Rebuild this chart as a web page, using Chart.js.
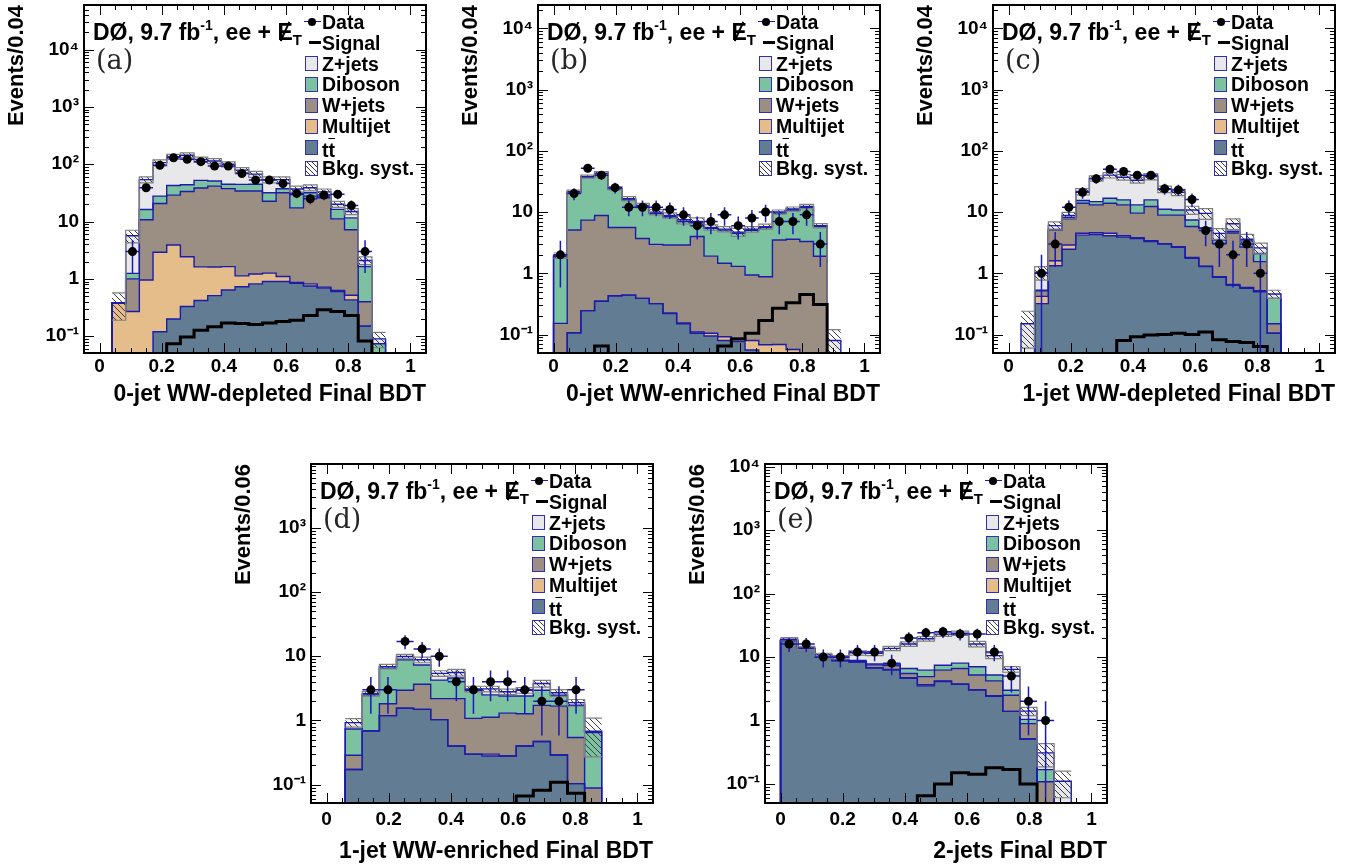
<!DOCTYPE html>
<html lang="en">
<head>
<meta charset="utf-8">
<title>DØ ee + MET final BDT distributions</title>
<script src="https://cdn.jsdelivr.net/npm/chart.js@4.4.1/dist/chart.umd.min.js"></script>
<style>
  html, body { margin: 0; padding: 0; background: #fff; }
  body { position: relative; width: 1369px; height: 867px; overflow: hidden;
         font-family: "Liberation Sans", Arial, Helvetica, sans-serif; color: #000; }
  .panel { position: absolute; }
  .panel canvas { position: absolute; left: 0; top: 0; }
  .note { position: absolute; font-weight: bold; font-size: 23px; line-height: 26px; white-space: nowrap; }
  .note .up { font-size: 14px; position: relative; top: -10px; }
  .note .dn { font-size: 15px; position: relative; top: 5px; }
  .met { position: relative; }
  .met i { position: absolute; left: 7px; top: 2px; width: 2px; height: 21px; background: #000; transform: rotate(24deg); }
  .tag { position: absolute; font-family: "DejaVu Serif", "Liberation Serif", serif; font-size: 27px; line-height: 30px; color: #262626; }
  .leg { position: absolute; font-weight: bold; font-size: 19.5px; line-height: 22px; white-space: nowrap; }
  .sw { position: absolute; width: 13px; height: 15px; box-sizing: border-box; border: 1px solid #3030b0; }
  .mk { position: absolute; }
  .ov { text-decoration: overline; }
</style>
</head>
<body>
<div class="panel" id="pa"><canvas id="ca"></canvas></div>
<div class="panel" id="pb"><canvas id="cb"></canvas></div>
<div class="panel" id="pc"><canvas id="cc"></canvas></div>
<div class="panel" id="pd"><canvas id="cd"></canvas></div>
<div class="panel" id="pe"><canvas id="ce"></canvas></div>
<script>
// axis ticks and legend
const xTickValues = [0, 0.2, 0.4, 0.6, 0.8, 1];
const xTickLabels = ['0', '0.2', '0.4', '0.6', '0.8', '1'];
const yTickValues = [0.1, 1, 10, 100, 1000, 10000];
const yTickLabels = ['10⁻¹', '1', '10', '10²', '10³', '10⁴'];
const legendLabels = ['Data', 'Signal', 'Z+jets', 'Diboson', 'W+jets', 'Multijet', 'tt̄', 'Bkg. syst.'];

// (a) 0-jet WW-depleted, bins from 0.04
const aBinStart = 0.04, aBinWidth = 0.044;
const aTT   = [0, 0, 0, 0.12, 0.20, 0.33, 0.42, 0.51, 0.64, 0.73, 0.82, 0.90, 0.90, 0.84, 0.75, 0.69, 0.60, 0.43, 0.15, 0];
const aMJ   = [0.38, 0.27, 0.96, 2.8, 3.7, 2.1, 1.2, 1.1, 1.0, 0.4, 0.4, 0.36, 0.2, 0.03, 0.07, 0.03, 0.03, 0.09, 0, 0];
const aW    = [0, 0.73, 9.8, 17.7, 25, 31, 37, 40, 36, 33, 33, 21.4, 30.7, 16.5, 27, 25.3, 10.5, 6.7, 0.25, 0];
const aDib  = [0, 0.25, 5.5, 7.2, 13.7, 10.5, 13.8, 9.3, 7.1, 10.5, 10.5, 9.1, 5.6, 12.3, 4.0, 1.8, 5.2, 4.4, 1.25, 0.074];
const aZ    = [0, 4.4, 37.7, 79, 93, 100, 69, 63, 55, 34.5, 22.5, 22.2, 16.6, 7.3, 7.2, 5.2, 3.7, 3.4, 0.45, 0.016];
const aSig  = [0, 0, 0, 0, 0.074, 0.097, 0.127, 0.146, 0.171, 0.167, 0.16, 0.17, 0.18, 0.19, 0.23, 0.29, 0.27, 0.23, 0.083, 0];
const aData = [0, 3, 39, 96, 130, 122, 111, 93, 93, 69, 53, 53, 46, 31, 25, 29, 30, 19, 3, 0];
const aSyst = [0.5, 0.25, 0.12, 0.12, 0.1, 0.1, 0.1, 0.1, 0.1, 0.1, 0.12, 0.12, 0.12, 0.12, 0.12, 0.12, 0.12, 0.12, 0.15, 0.3];

// (b) 0-jet WW-enriched, bins from 0
const bBinStart = 0, bBinWidth = 0.044;
const bTT   = [0, 0.107, 0.246, 0.35, 0.43, 0.44, 0.39, 0.32, 0.22, 0.15, 0.105, 0.095, 0.08, 0.077, 0.056, 0.045, 0.03, 0.02, 0.01, 0, 0];
const bMJ   = [0, 0, 0, 0, 0, 0, 0, 0, 0.005, 0.005, 0.005, 0.01, 0.012, 0.01, 0.024, 0.023, 0.039, 0.037, 0.01, 0, 0];
const bW    = [0.152, 5.0, 7.15, 8.45, 5.17, 5.16, 3.31, 2.65, 2.67, 2.75, 3.89, 1.8, 1.37, 1.21, 0.86, 0.81, 3.43, 3.54, 3.28, 1.9, 0];
const bDib  = [1.72, 15.7, 29.6, 33.2, 18, 10.2, 8.6, 6.5, 5.5, 4.1, 2.7, 3.5, 3.6, 3.2, 4.1, 4.7, 6.1, 7.2, 8.7, 3.9, 0];
const bZ    = [0.08, 0.7, 1.0, 1.0, 0.9, 0.7, 0.5, 0.5, 0.4, 0.5, 0.3, 0.2, 0.2, 0.2, 0.2, 0.2, 0.4, 0.4, 0.4, 0.2, 0.08];
const bSig  = [0, 0, 0, 0.065, 0, 0, 0, 0, 0, 0, 0, 0, 0.065, 0.085, 0.105, 0.17, 0.27, 0.33, 0.45, 0.31, 0];
const bData = [2, 20, 52, 40, 25, 12, 12, 12, 11, 9, 6, 7, 9, 6, 8, 10, 7, 7, 9, 3, 0];
const bSyst = [0.1, 0.06, 0.06, 0.06, 0.06, 0.08, 0.08, 0.1, 0.1, 0.15, 0.15, 0.1, 0.1, 0.15, 0.1, 0.1, 0.08, 0.08, 0.08, 0.08, 0.5];

// (c) 1-jet WW-depleted, bins from 0.04
const cBinStart = 0.04, cBinWidth = 0.044;
const cTT   = [0, 0.32, 1.33, 2.47, 4.2, 4.3, 4.1, 3.9, 3.7, 3.3, 3.0, 2.66, 1.76, 1.29, 0.86, 0.64, 0.57, 0.5, 0.105];
const cMJ   = [0, 0.1, 0.27, 0.43, 0.3, 0.3, 0.4, 0.2, 0.1, 0.1, 0.05, 0.05, 0.05, 0.02, 0.02, 0.02, 0.02, 0.02, 0];
const cW    = [0, 0.1, 3.5, 4.8, 9.4, 8.5, 9.4, 9.0, 5.8, 8.9, 5.85, 6.2, 4.0, 4.1, 2.2, 3.9, 2.1, 1.03, 0.045];
const cDib  = [0, 0.01, 0.1, 0.5, 1.5, 1.7, 2.9, 2.7, 3.5, 3.5, 2.2, 1.9, 1.6, 0.1, 0.4, 0.3, 0.7, 0.55, 0.24];
const cZ    = [0.15, 0.5, 0.8, 0.6, 6.2, 20.8, 23.2, 21.2, 19.9, 22.2, 12.5, 10.2, 3.4, 4.0, 1.0, 1.6, 0.2, 0.5, 0.07];
const cSig  = [0, 0, 0, 0, 0, 0, 0, 0.08, 0.092, 0.098, 0.1, 0.105, 0.1, 0.11, 0.082, 0.077, 0.074, 0.064, 0];
const cData = [0, 1, 3, 12, 21, 35, 50, 46, 40, 40, 24, 23, 16, 5, 3, 2, 3, 1, 0];
const cSyst = [0.6, 0.25, 0.15, 0.12, 0.12, 0.1, 0.1, 0.1, 0.1, 0.12, 0.12, 0.12, 0.15, 0.2, 0.2, 0.2, 0.2, 0.2, 0.15];

// (d) 1-jet WW-enriched, bins from 0.06
const dBinStart = 0.06, dBinWidth = 0.055;
const dTT   = [0.173, 0.69, 1.19, 1.56, 1.49, 1.03, 0.40, 0.30, 0.28, 0.28, 0.40, 0.47, 0.29, 0.104, 0];
const dMJ   = [0, 0, 0, 0, 0, 0, 0, 0, 0.02, 0, 0, 0, 0, 0, 0];
const dW    = [0.114, 0, 0.63, 1.39, 2.18, 1.16, 1.79, 0.78, 0.82, 1.02, 0.87, 1.25, 1.38, 0.44, 0.089];
const dDib  = [0.45, 1.81, 4.68, 5.85, 3.63, 2.06, 2.4, 1.87, 1.38, 1.1, 1.13, 1.23, 0.8, 1.18, 0.56];
const dZ    = [0.19, 0.1, 0.4, 1.1, 1.5, 1.15, 1.0, 0.15, 0.6, 0.4, 0.55, 0.81, 0.23, 0.17, 0.03];
const dSig  = [0, 0, 0, 0, 0, 0, 0, 0, 0, 0.045, 0.067, 0.082, 0.109, 0.074, 0];
const dData = [0, 3, 3, 17, 13, 10, 4, 3, 4, 4, 3, 2, 2, 3, 0];
const dSyst = [0.15, 0.08, 0.08, 0.08, 0.1, 0.1, 0.12, 0.1, 0.1, 0.1, 0.1, 0.12, 0.12, 0.12, 0.6];

// (e) 2-jets, bins from 0
const eBinStart = 0, eBinWidth = 0.055;
const eTT   = [18, 13.4, 9.9, 8.8, 8.3, 6.7, 6.2, 4.6, 3.5, 4.1, 3.7, 3.0, 2.4, 1.39, 0.51, 0, 0];
const eMJ   = [0, 0, 0, 0, 0.1, 0.1, 0.15, 0.1, 0.15, 0.1, 0.05, 0.05, 0.05, 0, 0, 0, 0];
const eW    = [0, 0, 0, 0, 0.2, 0.7, 1.0, 0.8, 1.25, 2.0, 2.85, 2.15, 1.75, 1.1, 0.38, 0.108, 0];
const eDib  = [0.2, 0.2, 0.15, 0.2, 0.2, 0.3, 0.4, 1.1, 1.3, 1.2, 1.4, 1.8, 1.0, 0.5, 0.15, 0.06, 0];
const eZ    = [0.8, 0.3, 0.75, 0.9, 2.8, 3.6, 5.9, 9.4, 13.2, 15.5, 15.7, 9.0, 5.3, 3.4, 0.36, 0.14, 0.11];
const eSig  = [0, 0, 0, 0, 0, 0, 0, 0, 0.065, 0.1, 0.15, 0.142, 0.18, 0.168, 0.1, 0, 0];
const eData = [16, 16, 10, 10, 12, 12, 8, 20, 24, 25, 23, 23, 12, 5, 2, 1, 0];
const eSyst = [0.06, 0.06, 0.06, 0.06, 0.08, 0.08, 0.08, 0.08, 0.08, 0.08, 0.08, 0.1, 0.1, 0.1, 0.15, 0.4, 0.45];

const FONT = "'Liberation Sans', Arial, Helvetica, sans-serif";
const FLOOR = 1e-4;   // stands in for empty bins on the log axis
const COL = { tt: '#627c94', mj: '#e4bd8b', w: '#9b8e82', dib: '#7dc2a0', z: '#e8e8ea',
              edge: '#1c1ca8', err: '#1a1ab8', syst: '#808080' };
const FRAME_W = 342, Y_AXIS_W = 84, CANVAS_W = 436;

const panels = [
  { key: 'a', tag: '(a)', x: 0,   y: 0,   h: 411, padTop: 5,  frameH: 348, yMin: 0.051, yMax: 6e4,
    tickPad: 2, titlePad: 3, yTitle: 'Events/0.04', xTitle: '0-jet WW-depleted Final BDT',
    binStart: aBinStart, binWidth: aBinWidth, tt: aTT, mj: aMJ, w: aW, dib: aDib, z: aZ, sig: aSig, data: aData, syst: aSyst },
  { key: 'b', tag: '(b)', x: 454, y: 0,   h: 411, padTop: 5,  frameH: 348, yMin: 0.05, yMax: 2.4e4,
    tickPad: 2, titlePad: 3, yTitle: 'Events/0.04', xTitle: '0-jet WW-enriched Final BDT',
    binStart: bBinStart, binWidth: bBinWidth, tt: bTT, mj: bMJ, w: bW, dib: bDib, z: bZ, sig: bSig, data: bData, syst: bSyst },
  { key: 'c', tag: '(c)', x: 909, y: 0,   h: 411, padTop: 5,  frameH: 348, yMin: 0.05, yMax: 2.4e4,
    tickPad: 2, titlePad: 3, yTitle: 'Events/0.04', xTitle: '1-jet WW-depleted Final BDT',
    binStart: cBinStart, binWidth: cBinWidth, tt: cTT, mj: cMJ, w: cW, dib: cDib, z: cZ, sig: cSig, data: cData, syst: cSyst },
  { key: 'd', tag: '(d)', x: 227, y: 452, h: 415, padTop: 12, frameH: 339, yMin: 0.052, yMax: 9800,
    tickPad: 5, titlePad: 2, yTitle: 'Events/0.06', xTitle: '1-jet WW-enriched Final BDT',
    binStart: dBinStart, binWidth: dBinWidth, tt: dTT, mj: dMJ, w: dW, dib: dDib, z: dZ, sig: dSig, data: dData, syst: dSyst },
  { key: 'e', tag: '(e)', x: 681, y: 452, h: 415, padTop: 12, frameH: 339, yMin: 0.05, yMax: 1.1e4,
    tickPad: 5, titlePad: 2, yTitle: 'Events/0.06', xTitle: '2-jets Final BDT',
    binStart: eBinStart, binWidth: eBinWidth, tt: eTT, mj: eMJ, w: eW, dib: eDib, z: eZ, sig: eSig, data: eData, syst: eSyst }
];

// hatch for the syst band
function makeHatch() {
  const c = document.createElement('canvas');
  c.width = 6; c.height = 6;
  const g = c.getContext('2d');
  g.strokeStyle = '#3c3c3c';
  g.lineWidth = 1;
  g.beginPath();
  g.moveTo(0, 0); g.lineTo(6, 6);
  g.stroke();
  return g.createPattern(c, 'repeat');
}
const hatch = makeHatch();

// histogram outline as step points (bin low edges + last upper edge)
function steps(start, width, vals, caps) {
  const pts = [];
  if (caps) pts.push({ x: start, y: FLOOR });
  vals.forEach((v, i) => pts.push({ x: start + i * width, y: Math.max(v, FLOOR) }));
  const end = start + vals.length * width;
  pts.push({ x: end, y: Math.max(vals[vals.length - 1], FLOOR) });
  if (caps) pts.push({ x: end, y: FLOOR });
  return pts;
}

// ROOT-like frame: box plus inward ticks on all four sides
const rootFrame = {
  id: 'rootFrame',
  afterDraw(chart) {
    const { ctx, chartArea: a, scales: { x, y } } = chart;
    ctx.save();
    ctx.strokeStyle = '#000';
    ctx.lineWidth = 1;
    ctx.beginPath();
    for (let k = 0; k <= 20; k++) {
      const v = k * 0.05;
      const px = Math.round(x.getPixelForValue(v)) + 0.5;
      const len = k % 4 === 0 ? 10 : 5;
      ctx.moveTo(px, a.bottom); ctx.lineTo(px, a.bottom - len);
      ctx.moveTo(px, a.top); ctx.lineTo(px, a.top + len);
    }
    for (let d = -2; d <= 4; d++) {
      for (let m = 1; m <= 9; m++) {
        const v = m * Math.pow(10, d);
        if (v < y.min || v > y.max) continue;
        const py = Math.round(y.getPixelForValue(v)) + 0.5;
        const len = m === 1 ? 10 : 5;
        ctx.moveTo(a.left, py); ctx.lineTo(a.left + len, py);
        ctx.moveTo(a.right, py); ctx.lineTo(a.right - len, py);
      }
    }
    ctx.stroke();
    ctx.lineWidth = 2;
    ctx.strokeRect(a.left, a.top, a.right - a.left, a.bottom - a.top);
    ctx.restore();
  }
};

function buildChart(p) {
  const canvas = document.getElementById('c' + p.key);
  canvas.width = CANVAS_W;
  canvas.height = p.h;
  canvas.style.width = CANVAS_W + 'px';
  canvas.style.height = p.h + 'px';

  // stack: ttbar at the bottom, Z+jets on top
  const layers = [p.tt, p.mj, p.w, p.dib, p.z];
  const fills = [COL.tt, COL.mj, COL.w, COL.dib, COL.z];
  const cum = [];
  let run = p.tt.map(() => 0);
  layers.forEach(l => {
    run = run.map((v, i) => v + l[i]);
    cum.push(run);
  });
  const total = cum[cum.length - 1];

  const datasets = cum.map((c, i) => ({
    data: steps(p.binStart, p.binWidth, c, true),
    stepped: 'before',
    borderColor: COL.edge,
    borderWidth: 1.4,
    backgroundColor: fills[i],
    fill: i === 0 ? 'start' : '-1',
    pointRadius: 0,
    order: 9 - i
  }));

  datasets.push({
    data: steps(p.binStart, p.binWidth, total.map((t, i) => t * (1 - p.syst[i])), false),
    stepped: 'before', borderColor: COL.syst, borderWidth: 1.2, fill: false, pointRadius: 0, order: 4
  });
  datasets.push({
    data: steps(p.binStart, p.binWidth, total.map((t, i) => t * (1 + p.syst[i])), false),
    stepped: 'before', borderColor: COL.syst, borderWidth: 1.2, backgroundColor: hatch, fill: '-1', pointRadius: 0, order: 3
  });

  datasets.push({
    data: steps(p.binStart, p.binWidth, p.sig, true),
    stepped: 'before', borderColor: '#000', borderWidth: 3, fill: false, pointRadius: 0, order: 2
  });

  // data error bars (sqrt N) and markers
  const errPts = [];
  const dataPts = [];
  p.data.forEach((n, i) => {
    if (!n) return;
    const c = p.binStart + (i + 0.5) * p.binWidth;
    const e = Math.sqrt(n);
    errPts.push({ x: c, y: Math.max(n - e, FLOOR) }, { x: c, y: n + e }, { x: c, y: null });
    errPts.push({ x: c - p.binWidth / 2, y: n }, { x: c + p.binWidth / 2, y: n }, { x: c, y: null });
    dataPts.push({ x: c, y: n });
  });
  datasets.push({
    data: errPts, borderColor: COL.err, borderWidth: 1.5, fill: false, pointRadius: 0, spanGaps: false, order: 1
  });
  datasets.push({
    data: dataPts, showLine: false, pointRadius: 4.5, pointBackgroundColor: '#000', pointBorderWidth: 0, order: 0
  });

  const axisH = p.h - p.padTop - p.frameH;

  return new Chart(canvas, {
    type: 'line',
    data: { datasets },
    options: {
      responsive: false,
      animation: false,
      events: [],
      layout: { padding: { left: 0, right: CANVAS_W - Y_AXIS_W - FRAME_W, top: p.padTop, bottom: 0 } },
      plugins: {
        legend: { display: false },
        tooltip: { enabled: false },
        filler: { drawTime: 'beforeDatasetsDraw', propagate: false }
      },
      scales: {
        x: {
          type: 'linear',
          min: -0.05,
          max: 1.05,
          afterBuildTicks: s => { s.ticks = xTickValues.map(v => ({ value: v })); },
          afterFit: s => { s.height = axisH; s.paddingLeft = 0; s.paddingRight = 0; },
          grid: { display: false, drawTicks: false },
          border: { display: false },
          ticks: {
            autoSkip: false, maxRotation: 0, padding: p.tickPad, color: '#000',
            font: { family: FONT, weight: 'bold', size: 19 },
            callback: (v, i) => xTickLabels[i]
          },
          title: {
            display: true, text: p.xTitle, align: 'end', color: '#000',
            font: { family: FONT, weight: 'bold', size: 23 },
            padding: { top: 0, bottom: p.titlePad }
          }
        },
        y: {
          type: 'logarithmic',
          min: p.yMin,
          max: p.yMax,
          afterBuildTicks: s => {
            s.ticks = yTickValues.filter(v => v >= s.min && v <= s.max).map(v => ({ value: v }));
          },
          afterFit: s => { s.width = Y_AXIS_W; s.paddingTop = 0; s.paddingBottom = 0; },
          grid: { display: false, drawTicks: false },
          border: { display: false },
          ticks: {
            autoSkip: false, padding: 5, color: '#000',
            font: { family: FONT, weight: 'bold', size: 19 },
            callback: v => yTickLabels[yTickValues.indexOf(v)]
          },
          title: {
            display: true, text: p.yTitle, align: 'end', color: '#000',
            font: { family: FONT, weight: 'bold', size: 22 },
            padding: { top: 4, bottom: 0 }
          }
        }
      }
    },
    plugins: [rootFrame]
  });
}

function addOverlay(p) {
  const host = document.getElementById('p' + p.key);
  const fx = Y_AXIS_W, fy = p.padTop;

  const note = document.createElement('div');
  note.className = 'note';
  note.style.left = (fx + 9) + 'px';
  note.style.top = (fy + 14) + 'px';
  note.innerHTML = 'DØ, 9.7 fb<span class="up">-1</span>, ee + <span class="met">E<i></i></span><span class="dn">T</span>';
  host.appendChild(note);

  const tag = document.createElement('div');
  tag.className = 'tag';
  tag.style.left = (fx + 12) + 'px';
  tag.style.top = (fy + 40) + 'px';
  tag.textContent = p.tag;
  host.appendChild(tag);

  const swatch = [null, null, COL.z, COL.dib, COL.w, COL.mj, COL.tt, 'hatch'];
  legendLabels.forEach((label, k) => {
    const cy = fy + 16.7 + 20.9 * k;
    const t = document.createElement('div');
    t.className = 'leg';
    t.style.left = (fx + 238) + 'px';
    t.style.top = (cy - 11 + (k === 6 ? 3 : 0)) + 'px';
    if (label === 'tt̄') t.innerHTML = 't<span class="ov">t</span>';
    else t.textContent = label;
    host.appendChild(t);

    if (k === 0) {
      const ln = document.createElement('div');
      ln.className = 'mk';
      Object.assign(ln.style, { left: (fx + 220) + 'px', top: (cy - 0.75) + 'px', width: '17px', height: '1.5px', background: COL.err });
      host.appendChild(ln);
      const dot = document.createElement('div');
      dot.className = 'mk';
      Object.assign(dot.style, { left: (fx + 224) + 'px', top: (cy - 4) + 'px', width: '8px', height: '8px', borderRadius: '50%', background: '#000' });
      host.appendChild(dot);
    } else if (k === 1) {
      const ln = document.createElement('div');
      ln.className = 'mk';
      Object.assign(ln.style, { left: (fx + 225) + 'px', top: (cy - 1.5) + 'px', width: '12px', height: '3px', background: '#000' });
      host.appendChild(ln);
    } else {
      const sw = document.createElement('div');
      sw.className = 'sw';
      sw.style.left = (fx + 221) + 'px';
      sw.style.top = (cy - 7.5) + 'px';
      if (swatch[k] === 'hatch') {
        sw.style.background = 'repeating-linear-gradient(45deg, #fff 0 2.5px, #3c3c3c 2.5px 3.5px)';
      } else {
        sw.style.background = swatch[k];
      }
      host.appendChild(sw);
    }
  });
}

panels.forEach(p => {
  const host = document.getElementById('p' + p.key);
  Object.assign(host.style, { left: p.x + 'px', top: p.y + 'px', width: CANVAS_W + 'px', height: p.h + 'px' });
  buildChart(p);
  addOverlay(p);
});
</script>
</body>
</html>
